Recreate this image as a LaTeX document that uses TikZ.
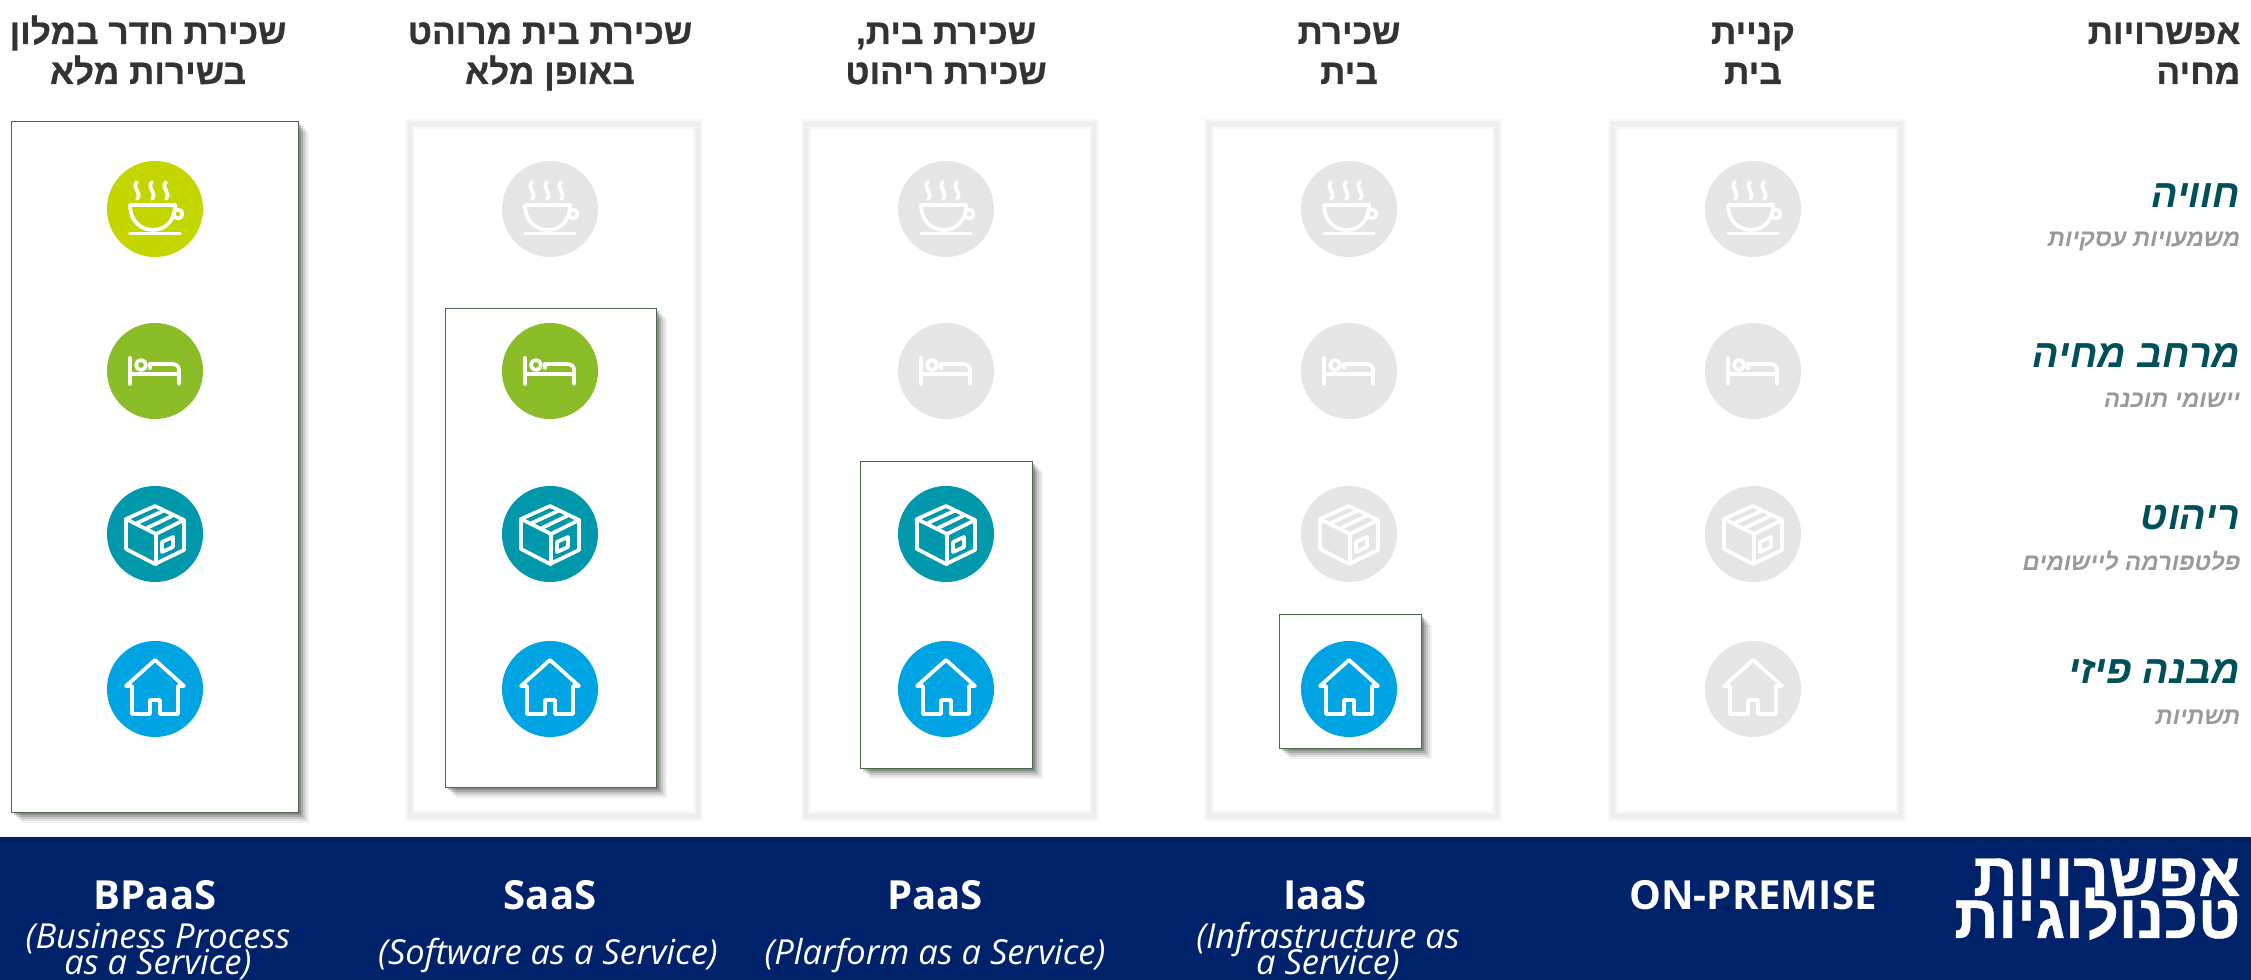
\documentclass[tikz,border=0pt]{standalone}
\usepackage{fontspec}
\setmainfont{Open Sans}
\newfontfamily\hebfont[Script=Hebrew, BoldFeatures={FakeBold=0.7}]{Liberation Sans}
\TeXXeTstate=1
\usepackage{tikz}
\definecolor{barblue}{HTML}{00226A}
\definecolor{boxgreen}{HTML}{46694C}
\definecolor{icongrey}{HTML}{E5E5E5}
\definecolor{cupcol}{HTML}{C4D600}
\definecolor{bedcol}{HTML}{8ABD28}
\definecolor{cratecol}{HTML}{0098AA}
\definecolor{housecol}{HTML}{00A4E2}
\definecolor{rowteal}{HTML}{00505A}
\definecolor{rowgrey}{HTML}{999999}
\definecolor{headgrey}{HTML}{333333}
\newcommand{\heb}[1]{\hebfont\beginR #1\endR}
\newcommand{\tightlines}{\lineskip=0pt\lineskiplimit=-50pt}
\tikzset{
  iconline/.style={white, line width=1.05pt, line cap=round, line join=round},
  cuppic/.pic={
    \foreach \sx in {-18,-3,11}
      \draw [iconline] (\sx,-27) .. controls (\sx-6,-21) and (\sx+6,-16) .. (\sx,-10);
    \draw [iconline] (-25,-4) -- (20,-4) .. controls (20,12) and (10,21) .. (-2,21) .. controls (-14,21) and (-25,12) .. (-25,-4);
    \draw [iconline] (23,5) circle (4.5);
    \draw [iconline] (-25,24.5) -- (25,24.5);
  },
  bedpic/.pic={
    \draw [iconline] (-25,-13) -- (-25,13);
    \draw [iconline] (-25,3) -- (24,3);
    \draw [iconline] (24,13) -- (24,-1) .. controls (24,-5) and (21,-7) .. (17,-7) -- (-5,-7);
    \draw [iconline] (-5,-3) -- (-5,-7);
    \draw [iconline] (-14,-6) circle (5);
  },
  cratepic/.pic={
    \draw [iconline] (0,-28) -- (29,-14) -- (29,16) -- (0,30) -- (-29,15) -- (-29,-15) -- cycle;
    \draw [iconline] (-29,-15) -- (1,0) -- (29,-14);
    \draw [iconline] (1,0) -- (1,30);
    \draw [iconline] (-18,-11) -- (8,-23);
    \draw [iconline] (-8,-6) -- (17,-18);
    \draw [iconline] (7,8) -- (18,3) -- (18,13) -- (7,18) -- cycle;
  },
  housepic/.pic={
    \draw [iconline] (-29,-3) -- (0,-29) -- (29,-3) -- (23,-3) -- (23,25) -- (5,25) -- (5,11) -- (-5,11) -- (-5,25) -- (-23,25) -- (-23,-3) -- cycle;
  }
}
\begin{document}
\begin{tikzpicture}[x=0.01cm, y=-0.01cm,
iconbg/.style={circle, minimum size=0.96cm, inner sep=0},
topbox/.style={draw=boxgreen, line width=0.4pt, fill=white},
head/.style={anchor=base, align=center, inner sep=0, text=headgrey, font=\fontsize{10}{11.4}\selectfont\bfseries},
rowbig/.style={anchor=base east, inner sep=0, text=rowteal, font=\fontsize{11.2}{12}\selectfont\bfseries\itshape},
rowsmall/.style={anchor=base east, inner sep=0, text=rowgrey, font=\fontsize{6.8}{8}\selectfont\bfseries\itshape},
techname/.style={anchor=base, text=white, font=\fontsize{11.4}{12}\selectfont\bfseries},
techsub/.style={anchor=base, align=center, text=white, font=\fontsize{9.8}{7.6}\selectfont\itshape\tightlines}]
\useasboundingbox (0,0) rectangle (2251,980);
\def\posBpaas{155}
\def\posSaas{550}
\def\posPaas{946}
\def\posIaas{1349}
\def\posPrem{1753}
\foreach \name/\pos in {frameSaas/\posSaas, framePaas/\posPaas, frameIaas/\posIaas, framePrem/\posPrem} {
  \foreach \wid/\tone in {2.6pt/black!3, 1.8pt/black!5, 0.9pt/black!7} {
    \draw [draw=\tone, line width=\wid] (\pos-140, 124) rectangle (\pos+148, 816);
  }
}
\foreach \name/\xa/\ya/\xb/\yb in {boxBpaas/11/121/298/812, boxSaas/445/308/656/787, boxPaas/860/461/1032/768, boxIaas/1279/614/1421/748} {
  \foreach \shift/\opac in {11/0.05, 9/0.08, 7/0.1, 5/0.14, 3/0.2} {
    \fill [black, opacity=\opac] (\xa+\shift, \ya+\shift) rectangle (\xb+\shift, \yb+\shift);
  }
  \node [topbox, minimum width={(\xb-\xa)*0.01cm}, minimum height={(\yb-\ya)*0.01cm}, inner sep=0, anchor=north west] (\name) at (\xa, \ya) {};
}
\foreach \colname/\pos/\first in {bpaas/\posBpaas/1, saas/\posSaas/2, paas/\posPaas/3, iaas/\posIaas/4, prem/\posPrem/5} {
  \foreach \rowname/\posy/\rowcol/\num in {cup/209/cupcol/1, bed/371/bedcol/2, crate/534/cratecol/3, house/689/housecol/4} {
    \ifnum\num<\first \def\thiscol{icongrey}\else \def\thiscol{\rowcol}\fi
    \node [iconbg, fill=\thiscol] (\rowname\colname) at (\pos, \posy) {};
    \pic at (\rowname\colname) {\rowname pic};
  }
}
\foreach \name/\pos/\lineone/\linetwo in {hBpaas/148/שכירת חדר במלון/בשירות מלא, hSaas/550/שכירת בית מרוהט/באופן מלא, hPaas/946/{שכירת בית,}/שכירת ריהוט, hIaas/1349/שכירת/בית, hPrem/1753/קניית/בית} {
  \node [head] (\name) at (\pos, 84) {\heb{\lineone}\\\heb{\linetwo}};
}
\node [head, align=right, anchor=base east] (hPrice) at (2241, 84) {\heb{אפשרויות}\\\heb{מחיה}};
\foreach \name/\posy/\big/\small/\posz in {rowA/208/חוויה/משמעויות עסקיות/247, rowB/368/מרחב מחיה/יישומי תוכנה/408, rowC/530/ריהוט/פלטפורמה ליישומים/571, rowD/684/מבנה פיזי/תשתיות/725} {
  \node [rowbig] (\name big) at (2241, \posy) {\heb{\big}};
  \node [rowsmall] (\name small) at (2241, \posz) {\heb{\small}};
}
\fill [barblue] (0,837) rectangle (2251,980);
\node [anchor=base east, inner sep=0, align=right, text=white, font=\fontsize{17.5}{12}\selectfont\bfseries\tightlines] (hTech) at (2241, 938) {\heb{אפשרויות}\\\heb{טכנולוגיות}};
\foreach \name/\pos/\tech in {tBpaas/155/BPaaS, tSaas/550/SaaS, tPaas/935/PaaS, tIaas/1325/IaaS, tPrem/1753/ON-PREMISE} {
  \node [techname] (\name) at (\pos, 910) {\tech};
}
\node [techsub] (sBpaas) at (158, 975) {(Business Process\\as a Service)};
\node [techsub] (sSaas) at (548, 965) {(Software as a Service)};
\node [techsub] (sPaas) at (935, 965) {(Plarform as a Service)};
\node [techsub] (sIaas) at (1328, 975) {(Infrastructure as\\a Service)};
\end{tikzpicture}
\end{document}
